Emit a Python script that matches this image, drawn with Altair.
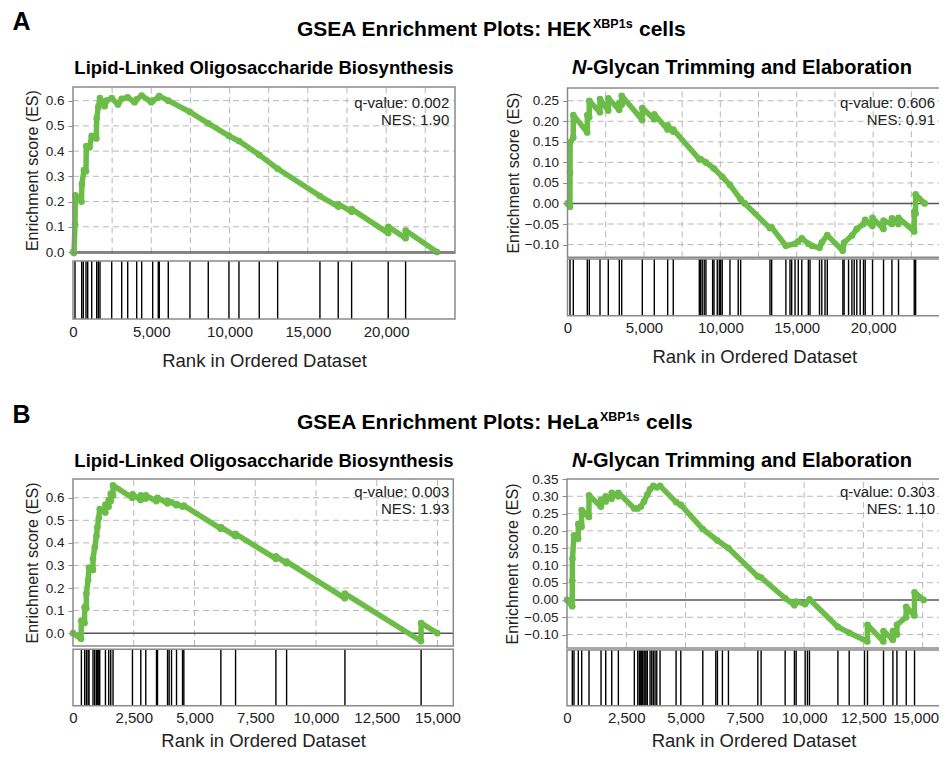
import altair as alt
import pandas as pd

FONT = "Liberation Sans"
GREEN = "#6bbd47"
GRID = "#b8b8b8"
FRAME = "#8a8a8a"
INK = "#222222"

# ---------------- data ----------------
# HEK XBP1s - Lipid-Linked Oligosaccharide Biosynthesis
hek_llo_rank = [0, 64, 128, 150, 540, 570, 700, 830, 850, 1060, 1194, 1490, 1513, 1616, 1724,
                2020, 2140, 2471, 2870, 3110, 3493, 3930, 4068, 4387, 5000, 5089, 5447, 5511,
                6086, 7471, 8640, 9962, 10600, 11897, 13072, 15773, 16941, 16950, 17797, 17800,
                20134, 20140, 21245, 21250, 23250]
hek_llo_es = [0.0, -0.004, 0.11, 0.225, 0.20, 0.27, 0.325, 0.32, 0.42, 0.415, 0.46, 0.45, 0.53, 0.575, 0.61,
              0.578, 0.60, 0.61, 0.585, 0.607, 0.613, 0.594, 0.605, 0.62, 0.594, 0.60, 0.612, 0.618,
              0.60, 0.555, 0.51, 0.46, 0.44, 0.385, 0.33, 0.222, 0.18, 0.19, 0.16, 0.17,
              0.075, 0.10, 0.055, 0.085, 0.0]
hek_llo_hits = [128, 556, 658, 830, 939, 1194, 1513, 1616, 1724, 2471, 3110, 3493, 4068, 4387, 5089,
                5447, 5511, 6086, 7471, 8640, 9962, 10600, 11897, 13072, 15773, 16941, 17797, 20134, 21245]

# HEK XBP1s - N-Glycan Trimming and Elaboration
hek_ng_rank = [0, 160, 164, 170, 375, 380, 1290, 1296, 1420, 1427, 2120, 2127, 2665, 2670, 3385, 3390,
               3545, 3547, 4890, 4895, 5675, 5680, 6550, 6554, 6915, 6920, 8620, 8710, 9058, 9584,
               10125, 10630, 11330, 11600, 13245, 13360, 14290, 14890, 15100, 15330, 15760, 16000,
               16490, 16640, 17000, 18010, 18100, 18610, 18930, 19370, 19480, 19950, 19960, 20675,
               20680, 21225, 21230, 21655, 21660, 22685, 22690, 22775, 22780, 23370]
hek_ng_es = [0.0, -0.008, 0.075, 0.148, 0.16, 0.215, 0.173, 0.215, 0.21, 0.25, 0.222, 0.254, 0.226, 0.256, 0.228, 0.245,
             0.24, 0.262, 0.203, 0.232, 0.205, 0.217, 0.18, 0.19, 0.175, 0.18, 0.108, 0.108, 0.10, 0.085,
             0.065, 0.045, 0.01, 0.0, -0.06, -0.058, -0.103, -0.098, -0.092, -0.085, -0.098, -0.103,
             -0.108, -0.095, -0.077, -0.115, -0.095, -0.078, -0.062, -0.05, -0.04, -0.055, -0.035, -0.062,
             -0.042, -0.05, -0.036, -0.05, -0.035, -0.068, -0.02, -0.025, 0.022, 0.0]
hek_ng_hits = [164, 380, 1296, 1427, 2127, 2670, 3390, 3547, 4895, 5680, 6554, 6920, 8625, 8710, 8815,
               8946, 9058, 9496, 9584, 9800, 9931, 10020, 10125, 10630, 11170, 11330, 13250, 13360,
               14290, 14560, 14670, 14890, 15100, 15330, 15760, 15870, 16490, 16640, 16850, 17000,
               18020, 18100, 18390, 18610, 18760, 18930, 19150, 19370, 19480, 19960, 20680, 21230,
               21660, 22690, 22780]

# HeLa XBP1s - Lipid-Linked Oligosaccharide Biosynthesis
hela_llo_rank = [0, 330, 345, 475, 480, 545, 550, 620, 660, 820, 824, 894, 964, 1005, 1060, 1100, 1330,
                 1335, 1465, 1470, 1550, 1553, 1645, 1648, 2440, 2447, 2785, 2790, 2990, 2995, 3430,
                 3436, 3477, 3885, 3890, 3955, 4054, 4255, 4260, 4507, 4561, 6080, 6085, 6685, 6690,
                 8345, 8350, 8785, 8790, 11185, 11190, 14320, 14325, 14990]
hela_llo_es = [0.0, -0.025, 0.055, 0.045, 0.115, 0.11, 0.175, 0.235, 0.29, 0.28, 0.33, 0.38, 0.43, 0.47, 0.51, 0.55, 0.535,
               0.57, 0.56, 0.59, 0.585, 0.617, 0.61, 0.655, 0.6, 0.615, 0.59, 0.61, 0.597, 0.61, 0.585,
               0.595, 0.6, 0.575, 0.585, 0.582, 0.58, 0.567, 0.572, 0.56, 0.565, 0.463, 0.47, 0.43, 0.44,
               0.33, 0.34, 0.31, 0.317, 0.155, 0.175, -0.035, 0.045, 0.0]
hela_llo_hits = [345, 480, 550, 620, 660, 824, 894, 964, 1005, 1060, 1100, 1335, 1470, 1553, 1648, 2447,
                 2790, 2995, 3436, 3477, 3890, 3955, 4054, 4260, 4507, 4561, 6085, 6690, 8350, 8790,
                 11190, 14325]

# HeLa XBP1s - N-Glycan Trimming and Elaboration
hela_ng_rank = [0, 220, 224, 230, 295, 470, 477, 615, 620, 925, 928, 1430, 1435, 1630, 1633, 1880, 1886,
                2160, 2166, 2835, 2984, 3110, 3249, 3388, 3503, 3641, 3785, 3924, 4600, 4799, 5727,
                6343, 6808, 8047, 8186, 9200, 9590, 9663, 10043, 10225, 11424, 11900, 12665, 12672,
                13340, 13348, 13740, 13744, 13910, 13913, 14300, 14306, 14650, 14656, 15040]
hela_ng_es = [0.0, -0.018, 0.056, 0.12, 0.187, 0.177, 0.22, 0.212, 0.26, 0.24, 0.303, 0.27, 0.29, 0.285, 0.3, 0.293, 0.31,
              0.3, 0.31, 0.265, 0.265, 0.27, 0.285, 0.305, 0.32, 0.33, 0.326, 0.33, 0.283, 0.275, 0.205,
              0.172, 0.15, 0.068, 0.065, 0.005, -0.015, -0.005, -0.012, 0.002, -0.078, -0.095, -0.12, -0.072,
              -0.12, -0.09, -0.115, -0.09, -0.1, -0.072, -0.05, -0.02, -0.045, 0.022, 0.0]
hela_ng_hits = [224, 295, 477, 620, 928, 1435, 1633, 1886, 2166, 2840, 2984, 3051, 3110, 3152, 3194,
                3249, 3291, 3333, 3388, 3503, 3574, 3641, 3713, 3785, 3924, 4600, 4799, 5727, 6275,
                6343, 6554, 6808, 8047, 8186, 9200, 9592, 9663, 10043, 10140, 10225, 11424, 11900,
                12546, 12672, 13348, 13744, 13913, 14306, 14656]

stats = [("q-value: 0.002", "NES: 1.90"), ("q-value: 0.606", "NES: 0.91"),
         ("q-value: 0.003", "NES: 1.93"), ("q-value: 0.303", "NES: 1.10")]

ticks_llo = [0.0, 0.1, 0.2, 0.3, 0.4, 0.5, 0.6]
ticks_hek_ng = [-0.10, -0.05, 0.0, 0.05, 0.10, 0.15, 0.20, 0.25]
ticks_hela_ng = [-0.10, -0.05, 0.0, 0.05, 0.10, 0.15, 0.20, 0.25, 0.30, 0.35]
xlab_hek = [0, 5000, 10000, 15000, 20000]
xgrid_hek = [2500, 5000, 7500, 10000, 12500, 15000, 17500, 20000, 22500]
xlab_hela = [0, 2500, 5000, 7500, 10000, 12500, 15000]
xgrid_hela = [2500, 5000, 7500, 10000, 12500, 15000]

W, H = 931, 744


def panel(rank, es, hits, xmax, xlabs, xgrid, ydom, yticks, yfmt, xr, es_r, hit_r,
          yoff, ytpad, xtpad, last_shift=0):
    xs = alt.Scale(domain=[0, xmax], range=list(xr), nice=False, zero=False)
    if last_shift:
        loff = {"condition": {"test": "datum.value == %d" % xlabs[-1], "value": last_shift},
                "value": 0}
    else:
        loff = 0
    xax = alt.Axis(orient="bottom", offset=hit_r[0] - H, values=xlabs, format=",d", grid=False,
                   ticks=False, domain=False, labelFont=FONT, labelFontSize=15,
                   labelColor=INK, labelPadding=5, labelFlush=False, labelOverlap=False,
                   labelOffset=loff,
                   title="Rank in Ordered Dataset", titleFont=FONT, titleFontSize=18.5,
                   titleFontWeight="normal", titleColor=INK, titlePadding=xtpad)
    ys = alt.Scale(domain=list(ydom), range=list(es_r), nice=False, zero=False)
    yax = alt.Axis(orient="left", offset=yoff, values=yticks, format=yfmt, grid=False,
                   ticks=True, tickSize=5, tickColor=FRAME, domain=False, labelFont=FONT,
                   labelFontSize=13.5, labelColor=INK, labelPadding=4, labelOverlap=False,
                   title="Enrichment score (ES)", titleFont=FONT, titleFontSize=16,
                   titleFontWeight="normal", titleColor=INK, titlePadding=ytpad)
    hs = alt.Scale(domain=[0, 1], range=list(hit_r), nice=False, zero=False)

    def X(f):
        return alt.X(f, type="quantitative", scale=xs, axis=xax)

    def Y(f):
        return alt.Y(f, type="quantitative", scale=ys, axis=yax)

    def HY(f):
        return alt.Y(f, type="quantitative", scale=hs, axis=None)

    ygrid = [v for v in yticks if abs(v) > 1e-9 and v < ydom[1] - 0.01]
    vg = pd.DataFrame({"g": xgrid, "y0": ydom[0], "y1": ydom[1]})
    hg = pd.DataFrame({"v": ygrid, "x0": 0, "x1": xmax})
    zero = pd.DataFrame({"v": [0.0], "x0": [0], "x1": [xmax]})
    frame = pd.DataFrame({"x0": [0], "x1": [xmax], "y0": [ydom[0]], "y1": [ydom[1]]})
    curve = pd.DataFrame({"rank": rank, "es": es})
    hitdf = pd.DataFrame({"r": hits, "y0": 0, "y1": 1})
    hframe = pd.DataFrame({"x0": [0], "x1": [xmax], "y0": [0], "y1": [1]})

    vgrid = alt.Chart(vg).mark_rule(color=GRID, strokeDash=[6, 4], strokeWidth=1).encode(
        x=X("g"), y=Y("y0"), y2="y1")
    hgrid = alt.Chart(hg).mark_rule(color=GRID, strokeDash=[6, 4], strokeWidth=1).encode(
        y=Y("v"), x=X("x0"), x2="x1")
    zl = alt.Chart(zero).mark_rule(color="#555555", strokeWidth=1.5).encode(
        y=Y("v"), x=X("x0"), x2="x1")
    line = alt.Chart(curve).mark_line(
        color=GREEN, strokeWidth=5.5, strokeJoin="round",
        point=alt.OverlayMarkDef(filled=True, color=GREEN, size=45, opacity=1)).encode(
        x=X("rank"), y=Y("es"))
    frm = alt.Chart(frame).mark_rect(fillOpacity=0, stroke=FRAME, strokeWidth=1.5).encode(
        x=X("x0"), x2="x1", y=Y("y0"), y2="y1")
    es_group = alt.layer(vgrid, hgrid, zl, line, frm)

    hl = alt.Chart(hitdf).mark_rule(color="black", strokeWidth=1.4).encode(
        x=X("r"), y=HY("y0"), y2="y1")
    hf = alt.Chart(hframe).mark_rect(fillOpacity=0, stroke=FRAME, strokeWidth=1.5).encode(
        x=X("x0"), x2="x1", y=HY("y0"), y2="y1")
    hit_group = alt.layer(hl, hf)
    return alt.layer(es_group, hit_group).resolve_scale(y="independent")


p1 = panel(hek_llo_rank, hek_llo_es, hek_llo_hits, 24400, xlab_hek, xgrid_hek,
           (-0.005, 0.654), ticks_llo, ".1f", (65, 447), (245.3, 79), (311, 253),
           -65, 5, 12)
p2 = panel(hek_ng_rank, hek_ng_es, hek_ng_hits, 24440, xlab_hek, xgrid_hek,
           (-0.131, 0.281), ticks_hek_ng, ".2f", (559.5, 933), (249.3, 80), (307.7, 251),
           -559.5, 3, 12)
p3 = panel(hela_llo_rank, hela_llo_es, hela_llo_hits, 15650, xlab_hela, xgrid_hela,
           (-0.057, 0.683), ticks_llo, ".1f", (65, 445.3), (638, 471), (697.7, 641.3),
           -65, 5, 6)
p4 = panel(hela_ng_rank, hela_ng_es, hela_ng_hits, 15730, xlab_hela, xgrid_hela,
           (-0.139, 0.35), ticks_hela_ng, ".2f", (559, 932), (640, 471), (697.7, 642),
           -559, 3, 6, last_shift=-7)

one = pd.DataFrame({"a": [0]})


def label(text, x, y, size, weight="normal", align="left", style="normal", color="black"):
    return alt.Chart(one).mark_text(
        text=text, font=FONT, fontSize=size, fontWeight=weight, fontStyle=style,
        align=align, baseline="middle", color=color).encode(x=alt.value(x), y=alt.value(y))


texts = []
# panel letters and row titles
texts += [label("A", 13.5, 14, 25, "bold", "center"), label("B", 13.5, 407, 25, "bold", "center")]
for y0, cell, wmain in ((22, "HEK", 295), (415, "HeLa", 302)):
    main = "GSEA Enrichment Plots: " + cell
    texts.append(label(main, 289, y0, 21, "bold", "left"))
    texts.append(label("XBP1s", 289 + wmain + 1, y0 - 6.5, 12.5, "bold", "left"))
    texts.append(label("cells", 289 + wmain + 1 + 40 + 6, y0, 21, "bold", "left"))
# panel titles
for y0 in (60, 453):
    texts.append(label("Lipid-Linked Oligosaccharide Biosynthesis", 256, y0, 18.5, "bold", "center"))
    texts.append(label("N", 564, y0, 20, "bold", "left", "italic"))
    texts.append(label("-Glycan Trimming and Elaboration", 578.4, y0, 20, "bold", "left"))
# q-values / NES
for (q, n), (xq, yq) in zip(stats, [(441.3, 94.7), (927, 94.7), (441.3, 483.7), (927, 483.7)]):
    texts.append(label(q, xq, yq, 15, "normal", "right", color=INK))
    texts.append(label(n, xq, yq + 17.5, 15, "normal", "right", color=INK))

chart = alt.layer(p1, p2, p3, p4, *texts).resolve_scale(
    x="independent", y="independent").properties(
    width=W, height=H, padding=0, autosize=alt.AutoSizeParams(type="none")
).configure_view(stroke=None)

chart.save("out.html", embed_options={"renderer": "svg", "actions": False})
